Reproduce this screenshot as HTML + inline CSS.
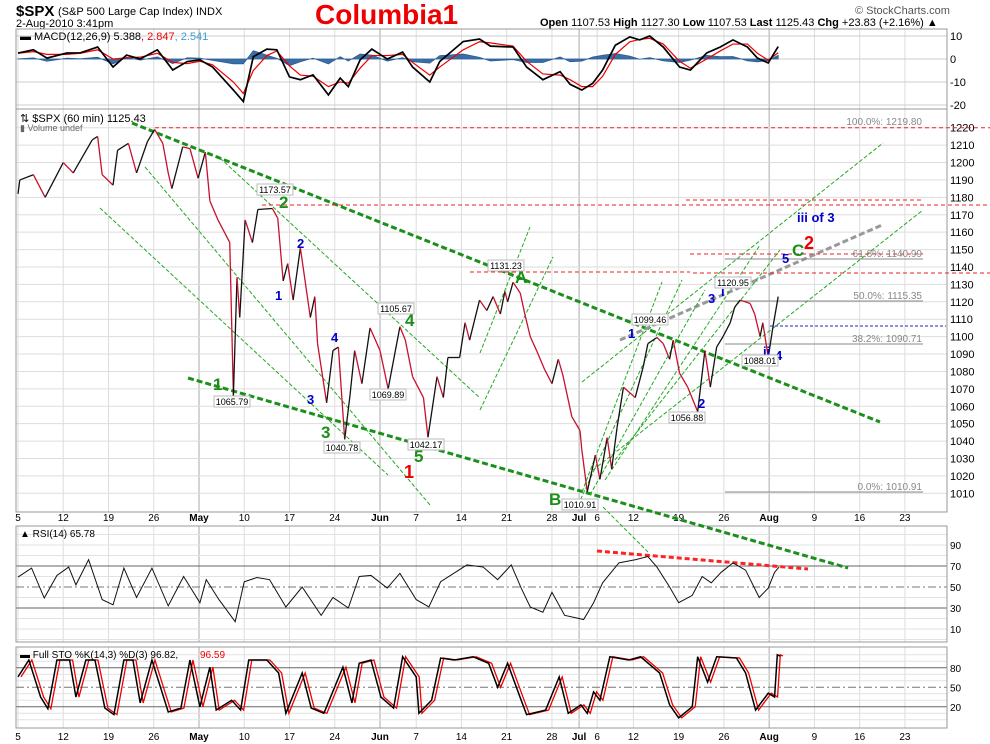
<!DOCTYPE html>
<html><head><meta charset="utf-8"><style>
body{margin:0;background:#fff}
svg{display:block;font-family:"Liberation Sans",sans-serif}
</style></head><body>
<svg id="c" width="990" height="744" viewBox="0 0 990 744" xmlns="http://www.w3.org/2000/svg">
<g>
<text x="16" y="16" font-size="15" font-weight="bold">$SPX</text>
<text x="58" y="15" font-size="11">(S&amp;P 500 Large Cap Index) INDX</text>
<text x="16" y="27" font-size="11">2-Aug-2010 3:41pm</text>
<text x="315" y="24" font-size="28" font-weight="bold" fill="#e00">Columbia1</text>
<text x="855" y="14" font-size="11" fill="#555">© StockCharts.com</text>
<text x="540" y="26" font-size="11"><tspan font-weight="bold">Open</tspan> 1107.53 <tspan font-weight="bold">High</tspan> 1127.30 <tspan font-weight="bold">Low</tspan> 1107.53 <tspan font-weight="bold">Last</tspan> 1125.43 <tspan font-weight="bold">Chg</tspan> +23.83 (+2.16%) ▲</text>
</g>
<g id="grid"></g>
<g id="ann"></g>
<g id="series"></g>
<g id="labels"></g>
</svg>
<script>
// ---- data ----
const tickIdx=[0,5,10,15,20,25,30,35,40,44,49,54,59,62,64,68,73,78,83,88,93,98];
const tickLbl=['5','12','19','26','May','10','17','24','Jun','7','14','21','28','Jul','6','12','19','26','Aug','9','16','23'];
const priceTicks=[1010,1020,1030,1040,1050,1060,1070,1080,1090,1100,1110,1120,1130,1140,1150,1160,1170,1180,1190,1200,1210,1220];
const pIdx=[0,0.2,1.7,3.0,5.0,6.1,8.2,8.8,9.3,10.5,11.0,12.2,13.1,14.3,15.1,16.0,16.6,17.0,18.2,19.0,19.9,20.7,21.2,22.1,23.4,23.8,24.2,24.5,25.1,25.9,26.5,28.1,28.7,29.3,29.8,30.4,31.2,32.3,32.8,33.1,34.1,34.8,35.4,36.1,36.7,37.2,38.0,38.9,40.0,40.9,41.7,42.2,42.8,43.6,44.8,45.3,46.3,47.0,47.5,48.8,49.4,49.9,51.0,51.8,52.5,53.3,53.8,54.1,54.7,55.5,56.0,56.6,57.3,58.2,59.0,59.7,60.2,61.2,62.1,62.3,62.9,63.8,64.3,65.1,65.6,66.2,66.9,68.2,69.1,69.6,70.6,71.3,72.0,72.4,73.1,74.0,75.1,75.9,76.5,77.2,77.9,78.7,79.2,79.8,80.9,81.4,82.0,82.3,82.9,83.4,84.0];
const pVal=[1182,1190,1193,1180,1200,1194,1213,1215,1193,1187,1207,1211,1194,1212,1219,1211,1194,1185,1209,1208,1191,1206,1178,1167,1154,1066,1134,1111,1167,1154,1173,1173.6,1168,1132,1142,1121,1151,1111,1123,1096,1062,1092,1094,1041,1067,1092,1073,1105,1092,1070,1092,1105.7,1098,1077,1065,1042.2,1077,1065,1088,1088,1108,1098,1121,1115,1123,1113,1126,1120,1131.2,1125,1113,1100,1092,1081,1073,1087,1078,1054,1046,1035,1010.9,1032,1018,1042,1024,1048,1071,1065,1083,1096,1099.5,1096,1087,1098,1079,1071,1056.9,1092,1071,1094,1100,1108,1117,1121,1119,1113,1100,1108,1088,1105,1123,1125.4];
const mIdx=[0,1.7,3.2,5.4,6.9,8.8,10.5,12,13.5,15.4,17.1,18.7,20.1,21.5,23.8,24.9,26,27.5,28.6,30,31.2,32.6,34.3,35.6,36.5,37.8,39.1,40.8,42.5,43.6,45.5,46.6,49.2,51,52.2,54.7,56.2,58,59.9,61,62.3,63.5,64.6,66,67.6,68.7,69.8,71.3,73.1,74.3,76.1,77.6,79,80.6,81.7,82.9,84];
const macdVal=[2.6,4,0.4,2.6,2.7,5.2,-3.5,1.7,0,4,-4.8,-1.1,-0.4,-3.5,-13.5,-18.5,1,4.3,4,-7.8,-9,-6.9,-15.6,-8.3,-12,-0.4,4.3,0,3,-3.5,-10,-1.1,7.6,8.7,5.6,5.2,-3.5,-9,-5.5,-11,-13.5,-10.6,-4.8,6,9.6,8.3,10,5.2,-3.5,-4.8,2.6,5.2,8.3,5.2,0.4,-1.7,5.4];
const sigVal=[2.5,3.2,2.0,2.0,2.5,4.0,0,0.5,0.8,2.5,-1.5,-2,-1,-2.5,-10,-15,-5,1.5,3.5,-3,-7,-7.5,-12,-10,-10.5,-4,1.5,1.5,2,-1.5,-7,-3.5,4,7.5,7,5.6,-1,-6.5,-7,-9,-12,-12,-7.5,2,7.5,8.5,9,6.5,-1,-4,0,3.5,6.5,6.5,2.5,-0.5,2.7];
const rIdx=[0,1.5,2.9,4.3,5.6,6.4,7.8,9.3,10.5,11.7,13.1,14.8,16.6,18.3,20.1,20.8,22.2,24,25,26.4,27.8,29.6,31.4,33.5,34.8,36.5,37.7,39,40.8,42.2,44,45.4,46.7,49.6,51.4,53,54.5,55.6,56.6,58,59,60.4,62.5,63.6,64.6,66.4,68.2,69.6,70.6,72,73,74.5,75.6,76.6,77.7,79,80.4,81.9,82.9,83.6,84.1];
const rsiVal=[59.5,68,39.5,61,69,52,76,38,33,68,40,68,32,60,35,57,38,17,55,59,57,31,50,23,40,30,60,61,49,63,38,31,55,71,69,57,71,49,31,26,45,23,19,35,54,73,76,79,69,50,35,42,60,54,64,73,66,40,49,64,69];
const sIdx=[0,1.2,2.5,3.3,4.3,5.7,6.4,7.5,8.5,9.6,10.6,11.7,12.7,13.5,14.8,16.6,18,19,20.1,21.2,21.9,23.6,24.6,25.5,27.5,28.8,29.6,31.4,32.4,33.8,35.9,36.9,37.7,39,40.1,41.5,42.5,44,44.3,45.7,46.7,48.2,50.3,52,53,54.1,55.6,56.2,58.3,59.8,60.8,62.2,62.9,63.6,64.3,65.4,67.5,68.8,70.9,72,73,74.5,75.1,76.2,77.2,79.4,80.4,81.5,82.9,83.6,83.9,84.2];
const stoK=[66,92,35,17,92,92,35,92,92,18,8,92,92,26,92,12,18,92,20,81,15,30,15,92,92,72,10,72,18,10,81,26,87,92,35,18,97,66,10,30,95,92,97,87,50,87,30,8,15,66,10,23,10,43,30,97,92,97,72,23,3,20,97,58,97,95,72,15,41,35,100,98];
// ---- scales ----
const X=i=>18+i*9.05, yP=p=>127.7+(1220-p)*1.741, yM=v=>59-v*2.3, yR=v=>587-(v-50)*1.05, yS=v=>687.3-(v-50)*0.65;
const NS='http://www.w3.org/2000/svg';
function mk(tag,attrs,parent){const e=document.createElementNS(NS,tag);for(const k in attrs)e.setAttribute(k,attrs[k]);document.getElementById(parent).appendChild(e);return e;}
const L=16,R=947;
const panels=[[29,109],[109,512],[526,642],[647,728]];
panels.forEach((p,pi)=>{
 tickIdx.forEach((t,i)=>{const m=/[A-Za-z]/.test(tickLbl[i]);
  const g=mk('line',{x1:X(t),x2:X(t),y1:p[0],y2:p[1],stroke:m?'#aaa':'#ddd','stroke-width':1},'grid');
  
  });
});
priceTicks.forEach(v=>{const g=mk('line',{x1:L,x2:R,y1:yP(v),y2:yP(v),stroke:'#ddd'},'grid');
 
 
 const t=mk('text',{x:950,y:yP(v)+4,'font-size':11},'grid');t.textContent=v;
 
 });
[10,0,-10,-20].forEach(v=>{const g=mk('line',{x1:L,x2:R,y1:yM(v),y2:yM(v),stroke:'#ccc'},'grid');
 
 
 const t=mk('text',{x:950,y:yM(v)+4,'font-size':11},'grid');t.textContent=v;
 
 });
for(let v=0;v<=100;v+=10){const y=yR(v);if(y<526||y>642)continue;
 const g=mk('line',{x1:L,x2:R,y1:y,y2:y,stroke:(v==70||v==30)?'#666':(v==50?'#777':'#e2e2e2'),'stroke-dasharray':v==50?'8,3,2,3':'none'},'grid');
 
 
 if(v%20==10){const t=mk('text',{x:950,y:y+4,'font-size':10},'grid');t.textContent=v;
 
 }}
for(let v=0;v<=100;v+=10){const y=yS(v);if(y<647||y>728)continue;
 const g=mk('line',{x1:L,x2:R,y1:y,y2:y,stroke:(v==80||v==20)?'#666':(v==50?'#777':'#e2e2e2'),'stroke-dasharray':v==50?'8,3,2,3':'none'},'grid');
 
 }
[80,50,20].forEach(v=>{const t=mk('text',{x:950,y:yS(v)+4,'font-size':10},'grid');t.textContent=v;
 
 });
panels.forEach(p=>{const r=mk('rect',{x:L,y:p[0],width:R-L,height:p[1]-p[0],fill:'none',stroke:'#999'},'grid');
 
 });
[521,740].forEach(y=>{tickIdx.forEach((t,i)=>{const m=/[A-Za-z]/.test(tickLbl[i]);
 const tx=mk('text',{x:X(t),y:y,'font-size':10,'text-anchor':'middle','font-weight':m?'bold':'normal'},'grid');tx.textContent=tickLbl[i];
 
 });});
const A=[
 [132,123,880,422,'#1a8f1a',3,'6,3'],
 [188,378,848,568,'#1a8f1a',3,'6,3'],
 [597,551,808,569,'#f22',3,'5,3'],
 [620,340,882,225,'#999',3,'6,3'],
 [603,507,648,552,'#2a2',1,'4,2'],
 [100,208,388,475,'#2a2',1,'4,2'],
 [145,167,430,505,'#2a2',1,'4,2'],
 [220,158,480,398,'#2a2',1,'4,2'],
 [480,353,530,227,'#2a2',1,'4,2'],
 [480,410,553,257,'#2a2',1,'4,2'],
 [582,382,883,143,'#2a2',1,'4,2'],
 [593,470,923,210,'#2a2',1,'4,2'],
 [582,492,662,282,'#2a2',1,'4,2'],
 [578,505,682,280,'#2a2',1,'4,2'],
 [590,495,705,290,'#2a2',1,'4,2'],
 [605,480,760,245,'#2a2',1,'4,2'],
 [615,460,780,250,'#2a2',1,'4,2'],
];
A.forEach(a=>{const l=mk('line',{x1:a[0],y1:a[1],x2:a[2],y2:a[3],stroke:a[4],'stroke-width':a[5],'stroke-dasharray':a[6]},'ann');
 
 });
const H=[[155,990,127.7,'#e22','4,3'],[262,990,205,'#e22','4,3'],[686,922,200,'#e22','4,3'],[470,690,272,'#e22','4,3'],[693,990,273,'#e22','4,3'],[690,923,254,'#e22','4,3'],
 [725,923,259,'#888','none'],[725,923,301,'#888','none'],[725,923,344,'#888','none'],[725,923,492,'#888','none'],[770,946,326,'#22c','3,2']];
H.forEach(h=>{const l=mk('line',{x1:h[0],x2:h[1],y1:h[2],y2:h[2],stroke:h[3],'stroke-dasharray':h[4]},'ann');
 
 });
for(let i=1;i<pIdx.length;i++){const up=pVal[i]>=pVal[i-1];
 const l=mk('line',{x1:X(pIdx[i-1]),y1:yP(pVal[i-1]),x2:X(pIdx[i]),y2:yP(pVal[i]),stroke:up?'#111':'#c8102e','stroke-width':1.3},'series');
 
 }
const n=Math.min(mIdx.length,macdVal.length,sigVal.length);
let hp=`M${X(mIdx[0])},${yM(0)}`;for(let i=0;i<n;i++)hp+=` L${X(mIdx[i])},${yM((macdVal[i]-sigVal[i])*0.6)}`;hp+=` L${X(mIdx[n-1])},${yM(0)}Z`;
const hist=mk('path',{d:hp,fill:'#3a6ea5',stroke:'#2a5e95','stroke-width':0.8},'series');


const sig=mk('polyline',{points:sigVal.slice(0,n).map((v,i)=>X(mIdx[i])+','+yM(v)).join(' '),fill:'none',stroke:'#e00','stroke-width':1.2},'series');


const mac=mk('polyline',{points:macdVal.slice(0,n).map((v,i)=>X(mIdx[i])+','+yM(v)).join(' '),fill:'none',stroke:'#000','stroke-width':1.7},'series');


const rsi=mk('polyline',{points:rsiVal.map((v,i)=>X(rIdx[i])+','+yR(v)).join(' '),fill:'none',stroke:'#111','stroke-width':1},'series');


const sd=mk('polyline',{points:stoK.map((v,i)=>(X(sIdx[i])+3)+','+yS(v)).join(' '),fill:'none',stroke:'#e00','stroke-width':1.3},'series');


const sk=mk('polyline',{points:stoK.map((v,i)=>X(sIdx[i])+','+yS(v)).join(' '),fill:'none',stroke:'#000','stroke-width':1.5},'series');


const T=[
 [20,40,'▬ MACD(12,26,9) 5.388','#000',11,'normal'],[20,122,'⇅ $SPX (60 min) 1125.43','#000',11,'normal'],[20,131,'▮ Volume undef','#666',9,'normal'],
 [20,537,'▲ RSI(14) 65.78','#000',10,'normal'],[20,658,'▬ Full STO %K(14,3) %D(3) 96.82,','#000',10,'normal'],[200,658,'96.59','#e00',10,'normal'],
 [922,125,'100.0%: 1219.80','#888',10,'normal','end'],[922,257,'61.8%: 1140.99','#888',10,'normal','end'],[922,299,'50.0%: 1115.35','#888',10,'normal','end'],
 [922,342,'38.2%: 1090.71','#888',10,'normal','end'],[922,490,'0.0%: 1010.91','#888',10,'normal','end'],
 [213,390,'1','#1a8f1a',17,'bold'],[279,208,'2','#1a8f1a',17,'bold'],[321,438,'3','#1a8f1a',17,'bold'],[405,326,'4','#1a8f1a',17,'bold'],[414,462,'5','#1a8f1a',17,'bold'],
 [515,283,'A','#1a8f1a',17,'bold'],[549,505,'B','#1a8f1a',17,'bold'],[792,256,'C','#1a8f1a',17,'bold'],
 [404,478,'1','#e00',18,'bold'],[804,249,'2','#e00',18,'bold'],
 [275,300,'1','#00c',13,'bold'],[297,248,'2','#00c',13,'bold'],[307,404,'3','#00c',13,'bold'],[331,342,'4','#00c',13,'bold'],[628,338,'1','#00c',13,'bold'],
 [698,408,'2','#00c',13,'bold'],[708,303,'3','#00c',13,'bold'],[721,296,'i','#00c',13,'bold'],[782,263,'5','#00c',13,'bold'],[763,356,'ii','#00c',13,'bold'],
 [775,360,'4','#00c',13,'bold'],[797,222,'iii of 3','#00c',13,'bold'],
];
T.forEach(t=>{const e=mk('text',{x:t[0],y:t[1],fill:t[3],'font-size':t[4],'font-weight':t[5],'text-anchor':t[6]||'start'},'labels');e.textContent=t[2];
 
 });
const m2=mk('text',{x:141,y:40,'font-size':11},'labels');m2.innerHTML='<tspan fill="#e00">, 2.847</tspan><tspan fill="#3a9ad9">, 2.541</tspan>';


const B=[[275,192,'1173.57'],[232,404,'1065.79'],[342,450,'1040.78'],[388,397,'1069.89'],[396,311,'1105.67'],[426,447,'1042.17'],[506,268,'1131.23'],[580,507,'1010.91'],[650,322,'1099.46'],[687,420,'1056.88'],[733,285,'1120.95'],[760,363,'1088.01']];
B.forEach(b=>{const r=mk('rect',{x:b[0]-18,y:b[1]-8,width:36,height:11,fill:'#fff',stroke:'#bbb'},'labels');
 
 
 const t=mk('text',{x:b[0],y:b[1]+1,'font-size':9,'text-anchor':'middle'},'labels');t.textContent=b[2];
 
 });
</script>
</body></html>
